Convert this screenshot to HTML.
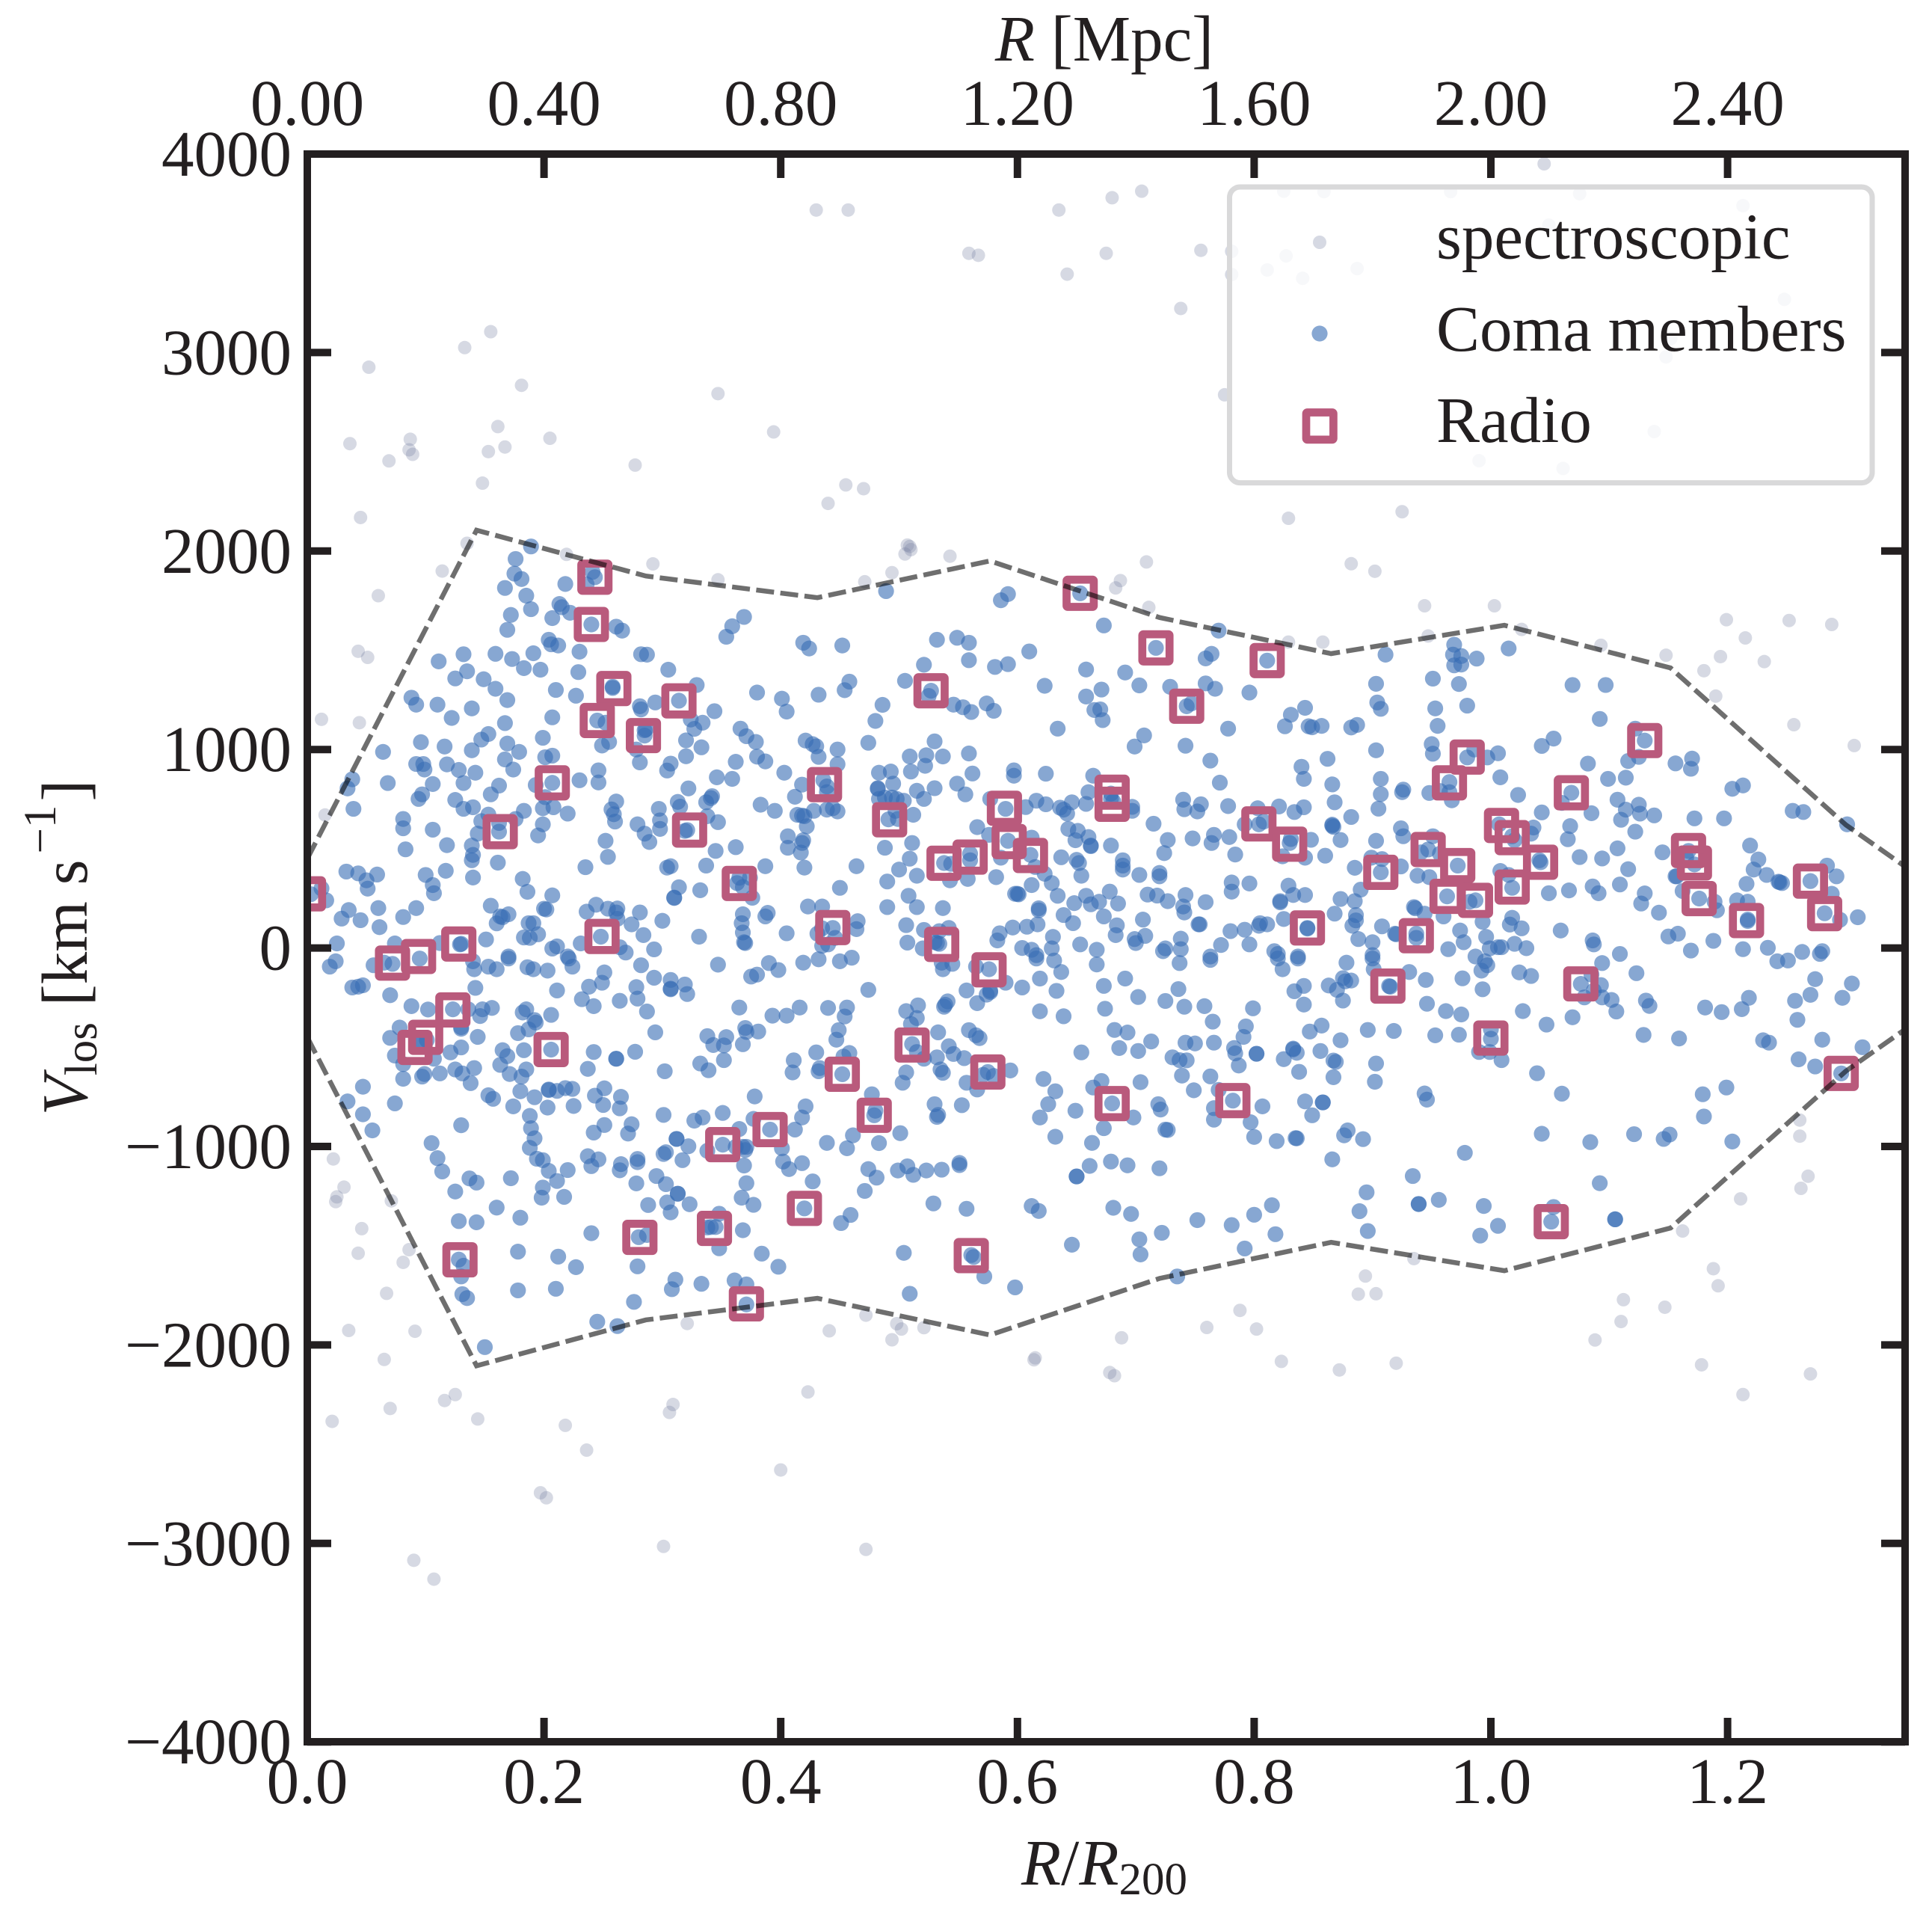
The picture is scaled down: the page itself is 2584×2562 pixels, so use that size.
<!DOCTYPE html>
<html lang="en">
<head>
<meta charset="utf-8">
<title>Coma cluster phase-space diagram</title>
<style>
html,body{margin:0;padding:0;background:#fff;}
svg{display:block;}
text{font-family:"Liberation Serif","Times New Roman",serif;fill:#231f20;font-size:87px;}
.it{font-style:italic;}
</style>
</head>
<body>
<svg id="chart" xmlns="http://www.w3.org/2000/svg" width="2584" height="2562" viewBox="0 0 2584 2562">
  <defs><clipPath id="plot-clip"><rect x="411" y="206" width="2137" height="2123"/></clipPath></defs>
  <rect x="0" y="0" width="2584" height="2562" fill="#fff"/>
  <g id="data-layer" clip-path="url(#plot-clip)"></g>
  <g id="legend">
    <rect x="1644.5" y="250" width="859.5" height="395.6" rx="14" fill="rgba(255,255,255,0.8)" stroke="#d9d9da" stroke-width="7"/>
    <circle cx="1765" cy="324" r="9" fill="rgb(214,217,227)"/>
    <circle cx="1765" cy="446" r="10.6" fill="rgb(135,167,210)"/>
    <rect x="1747" y="551.5" width="36.4" height="36.4" rx="1.5" fill="none" stroke="#b95a7c" stroke-width="10.7"/>
    <text x="1921" y="345.6">spectroscopic</text>
    <text x="1921" y="469">Coma members</text>
    <text x="1921" y="591">Radio</text>
  </g>
  <g id="ticks"></g>
  <rect x="411" y="206" width="2137" height="2123" fill="none" stroke="#231f20" stroke-width="10"/>
  <g id="tick-labels"></g>
  <text x="1477" y="81" text-anchor="middle"><tspan class="it">R</tspan> [Mpc]</text>
  <text x="1477" y="2520" text-anchor="middle"><tspan class="it">R</tspan>/<tspan class="it">R</tspan><tspan font-size="61" dy="13">200</tspan></text>
  <text transform="translate(116,1267) rotate(-90)" text-anchor="middle"><tspan class="it">V</tspan><tspan font-size="61" dy="13">los</tspan><tspan dy="-13"> [km s</tspan><tspan font-size="61" dy="-42" dx="8">−1</tspan><tspan dy="42" dx="5">]</tspan></text>
</svg>
<script>
const xTicksBottom = [0, 0.2, 0.4, 0.6, 0.8, 1.0, 1.2];
const xTickLabelsBottom = ["0.0", "0.2", "0.4", "0.6", "0.8", "1.0", "1.2"];
const xTicksTopMpc = [0, 0.4, 0.8, 1.2, 1.6, 2.0, 2.4];
const xTickLabelsTop = ["0.00", "0.40", "0.80", "1.20", "1.60", "2.00", "2.40"];
const yTicks = [-4000, -3000, -2000, -1000, 0, 1000, 2000, 3000, 4000];
const yTickLabels = ["−4000", "−3000", "−2000", "−1000", "0", "1000", "2000", "3000", "4000"];
const mpcPerR200 = 2.0;
const envelopeR = [0, 0.143, 0.286, 0.431, 0.5768, 0.72, 0.865, 1.0114, 1.1518, 1.21, 1.30, 1.35];
const envelopeV = [450, 2105, 1874, 1765, 1950, 1665, 1483, 1626, 1411, 1100, 620, 410];

const spectroscopic = [
[.052,2926],[.133,3025],[.155,3105],[.181,2835],[.036,2541],[.087,2563],[.086,2510],[.089,2487],[.069,2454],[.161,2627],[.167,2524],[.153,2501],[.205,2568],[.148,2342],[.045,2169],[.277,2433],
[.347,2793],[.394,2600],[.440,2240],[.455,2333],[.470,2314],[.509,2023],[.505,1985],[.510,2007],[.507,2030],[.543,1974],[.494,1891],[.471,1845],[.347,1855],
[.135,2039],[.219,1983],[.292,1935],[.114,1899],[.060,1775],[.043,1495],[.051,1464],[.012,1152],[.044,1135],[.015,670],
[.709,1945],[.687,1851],[.683,1814],[.711,1716],[.882,1936],[.902,1898],[.944,1724],[1.003,1724],[.829,1541],[.858,1541],[.947,1572],[1.026,1605],
[1.093,1525],[1.148,1475],[1.199,1654],[1.252,1650],[1.288,1630],[1.215,1562],[1.194,1468],[1.231,1443],[1.180,1397],[1.190,1269],[1.256,1125],[1.307,1020],
[1.045,3951],[.825,3813],[.859,3811],[.966,3811],[1.075,3800],[1.213,3740],[1.049,3642],[.755,3515],[.781,3510],[.827,3487],[.811,3416],[.781,3393],[.841,3374],[.887,3423],[1.248,3268],[1.152,3070],[1.148,2978],[.775,2787],[1.138,2602],[.990,2455],[1.061,2416],[.829,2165],[.925,2198],
[.430,3718],[.457,3718],[.559,3500],[.567,3490],[.635,3718],[.642,3395],[.680,3780],[.705,3813],[.675,3500],[.738,3222],
[.022,-1063],[.031,-1205],[.025,-1254],[.024,-1278],[.071,-1274],[.046,-1414],[.043,-1538],[.086,-1520],[.081,-1584],[.067,-1740],[.035,-1927],[.091,-1931],[.065,-2073],[.321,-1892],
[.472,-1850],[.498,-1893],[.502,-1920],[.521,-1913],[.494,-1974],[.441,-1929],[.615,-2065],[.678,-2139],
[.688,-1964],[.788,-1826],[.760,-1912],[.802,-1920],[.823,-2083],[.872,-2126],[.920,-2092],[.894,-1653],[.888,-1744],[.903,-1742],[.935,-1565],
[1.162,-1426],[1.188,-1616],[1.192,-1702],[1.112,-1772],[1.147,-1810],[1.110,-1882],[1.088,-1975],[1.178,-2100],[1.270,-2146],[1.261,-867],[1.261,-948],[1.268,-1150],[1.262,-1211],[1.211,-1264],
[1.213,-2250],[.682,-2155],[.614,-2075],[.423,-2237],[.309,-2300],[.306,-2340],[.218,-2405],[.236,-2530],[.197,-2745],[.202,-2770],[.400,-2630],[.301,-3015],[.472,-3030],[.090,-3085],[.107,-3180],[.021,-2385],[.070,-2320],[.116,-2280],[.125,-2250],[.144,-2373]
];

const comaMembers = [
[.189,2023],[.176,1960],[.175,1886],[.181,1859],[.167,1814],[.185,1775],[.189,1707],[.172,1678],[.169,1603],[.218,1834],[.241,1895],[.243,1868],[.236,1832],[.213,1733],[.215,1717],[.222,1689],[.207,1662],[.240,1630],[.261,1619],[.266,1599],[.204,1553],[.206,1530],[.212,1524],[.230,1493],[.191,1485],[.173,1456],[.159,1482],[.132,1480],[.111,1444],[.183,1410],[.197,1402],[.229,1390],[.282,1480],[.287,1478],[.305,1402],[.135,1394],[.125,1358],[.149,1354],[.159,1306],[.210,1300],[.227,1271],[.258,1316],[.258,1310],[.329,1325],[.088,1261],[.092,1226],[.110,1226],[.139,1207],[.169,1249],[.122,1159],[.207,1162],[.281,1218],[.282,1202],[.294,1237],[.314,1246],[.245,1146],[.252,1135],[.167,1133],[.324,1151],[.334,1135],[.327,1104],[.285,1097],[.285,1070],[.286,1101],[.153,1078],[.147,1050],[.199,1059],[.096,1037],[.116,1015],[.064,988],[.169,1030],[.139,996],[.179,988],[.255,1038],[.249,1020],[.278,1000],[.320,1046],[.333,1011],[.320,966],[.207,969],[.201,961],[.167,950],[.281,935],[.307,929],[.304,894],[.092,927],[.098,927],[.099,899],[.118,925],[.128,897],[.142,883],[.174,899],[.246,895],[.038,850],[.034,804],[.068,831],[.106,826],[.132,831],[.207,832],[.193,821],[.230,845],[.246,834],[.162,818],[.155,774],[.322,804],[.097,774],[.094,751],[.125,746],[.201,760],[.261,738],[.313,736],[.315,712],[.337,734],[.140,709],[.132,701],[.039,701],[.199,704],[.208,709],[.183,691],[.220,677],[.257,698],[.259,674],[.297,701],[.153,672],[.081,650],[.298,643],[.081,603],[.147,639],[.162,630],[.176,650],[.199,623],[.260,637],[.279,623],[.106,596],[.162,586],[.144,576],[.195,567],[.285,576],[.298,600],[.321,594],[.319,590],[.289,534],[.252,540],[.338,664],[.118,518],[.139,516],[.083,497],[.140,469],[.139,442],[.254,459],[.161,430],[.337,415],[.235,407],[.304,405],[.307,412],[.033,385],[.043,376],[.059,370],[.117,389],[.100,368],[.140,355],[.050,341],[.051,299],[.106,317],[.107,276],[.182,348],[.186,283],[.207,265],[.314,306],[.332,291],[.310,252],[.310,254],[.060,201],[.035,191],[.029,148],[.045,140],[.092,201],[.081,156],[.155,213],[.170,170],[.163,159],[.165,155],[.160,124],[.061,105],[.200,198],[.202,194],[.244,218],[.236,183],[.254,198],[.262,199],[.261,179],[.262,147],[.281,179],[.274,119],[.300,137],[.187,125],[.191,125],[.248,57],[.284,65],[.331,57],[.195,69],[.183,53],[.188,51],[.151,43],[.129,18],[.130,21],[.025,23],[.074,23],[.112,25],[.211,8],[.207,-3],[.231,23],[.264,4],[.269,-23],[.293,-7],[.220,-43],[.170,-43],[.003,271],[.016,240],[.012,300],
[.489,1798],[.592,1783],[.586,1752],[.653,1787],[.369,1668],[.359,1621],[.354,1568],[.419,1538],[.424,1509],[.452,1524],[.673,1625],[.532,1553],[.549,1563],[.559,1538],[.559,1450],[.521,1427],[.581,1416],[.592,1430],[.610,1494],[.658,1403],[.505,1346],[.527,1296],[.525,1270],[.458,1342],[.454,1299],[.380,1287],[.401,1256],[.432,1276],[.623,1321],[.671,1302],[.658,1267],[.344,1193],[.486,1225],[.405,1191],[.546,1226],[.554,1213],[.561,1189],[.574,1232],[.580,1195],[.670,1202],[.665,1199],[.672,1148],[.480,1144],[.366,1105],[.371,1067],[.379,1038],[.634,1105],[.421,1045],[.427,1027],[.430,1016],[.448,1000],[.474,1034],[.530,1041],[.432,963],[.448,926],[.380,964],[.387,940],[.362,938],[.509,965],[.523,971],[.537,965],[.559,980],[.522,918],[.510,889],[.403,883],[.483,883],[.493,889],[.562,879],[.597,895],[.597,868],[.624,878],[.664,868],[.346,860],[.359,852],[.436,845],[.439,814],[.418,823],[.495,828],[.482,802],[.549,828],[.530,805],[.515,792],[.482,805],[.342,765],[.341,755],[.412,762],[.556,774],[.383,722],[.395,691],[.439,785],[.488,758],[.494,758],[.498,751],[.504,742],[.483,751],[.521,751],[.577,751],[.590,701],[.607,710],[.616,742],[.624,724],[.636,707],[.639,697],[.646,734],[.642,677],[.658,726],[.660,785],[.679,778],[.428,691],[.439,697],[.444,704],[.448,688],[.414,671],[.418,667],[.420,664],[.422,613],[.491,648],[.499,650],[.497,691],[.512,671],[.347,634],[.566,609],[.576,570],[.592,540],[.612,556],[.643,600],[.651,590],[.660,559],[.649,543],[.662,516],[.662,513],[.679,516],[.406,563],[.419,543],[.418,529],[.406,505],[.417,481],[.362,508],[.345,489],[.488,505],[.511,529],[.637,457],[.650,444],[.652,428],[.654,364],[.509,450],[.500,395],[.515,364],[.490,335],[.387,412],[.420,405],[.464,412],[.538,428],[.560,475],[.560,442],[.611,469],[.615,408],[.586,455],[.544,424],[.543,341],[.558,348],[.582,357],[.623,374],[.629,327],[.365,354],[.363,327],[.368,307],[.374,354],[.376,253],[.450,303],[.612,317],[.600,273],[.601,270],[.598,273],[.634,263],[.508,263],[.490,206],[.515,206],[.537,201],[.423,209],[.435,209],[.678,284],[.658,263],[.648,226],[.662,220],[.669,233],[.618,200],[.618,190],[.639,166],[.673,159],[.647,125],[.617,119],[.608,107],[.596,103],[.585,74],[.583,38],[.368,170],[.367,125],[.368,78],[.369,29],[.370,25],[.389,177],[.387,159],[.405,74],[.444,101],[.431,72],[.435,99],[.446,51],[.440,18],[.435,11],[.465,135],[.464,95],[.506,115],[.521,91],[.534,85],[.542,101],[.507,27],[.520,-2],[.532,25],[.534,21],[.530,31],[.604,0],[.612,-9],[.616,-36],[.630,56],[.629,-2],[.653,18],[.667,-9],
[.717,1512],[.770,1599],[.764,1482],[.759,1459],[.811,1448],[.691,1388],[.703,1323],[.729,1316],[.759,1333],[.767,1306],[.796,1287],[.743,1218],[.747,1232],[.843,1210],[.831,1175],[.826,1117],[.846,1117],[.849,1112],[.857,1119],[.882,1111],[.887,1124],[.911,1478],[.903,1331],[.904,1237],[.907,1205],[.951,1357],[.969,1528],[.968,1478],[.975,1471],[.969,1424],[.975,1428],[.988,1458],[1.015,1509],[.973,1330],[.953,1207],[.980,1221],[.955,1119],[.778,1105],[.707,1071],[.699,1015],[.742,1019],[.763,944],[.903,996],[.950,1027],[.951,979],[.862,953],[.840,913],[.842,852],[.866,824],[.771,833],[.980,960],[.986,1000],[.997,960],[1.006,981],[.907,852],[.965,836],[1.008,860],[.907,775],[.926,798],[.925,785],[.948,781],[.957,791],[.965,785],[.967,744],[.868,734],[.740,747],[.755,724],[.741,699],[.752,688],[.778,715],[.803,704],[.821,713],[.842,709],[.834,685],[.905,702],[.697,711],[.697,691],[.679,751],[.681,738],[.715,626],[.804,623],[.808,637],[.792,623],[.866,616],[.866,621],[.867,610],[.882,660],[.727,544],[.748,552],[.766,570],[.764,529],[.779,559],[.784,471],[.724,478],[.830,529],[.831,549],[.848,545],[.873,544],[.903,540],[.924,603],[.926,563],[.947,496],[.941,482],[.951,563],[1.007,623],[1.018,563],[1.020,543],[.689,442],[.689,415],[.689,395],[.824,462],[.843,455],[.860,465],[.703,368],[.720,378],[.720,361],[.899,455],[.908,448],[.885,404],[.907,381],[.924,411],[.938,364],[.948,357],[.957,475],[.972,415],[1.008,388],[1.018,303],[1.015,368],[.781,330],[.781,284],[.796,325],[.829,314],[.833,267],[.843,267],[.822,236],[.822,230],[.890,294],[.873,247],[.885,236],[.685,224],[.710,269],[.718,264],[.727,236],[.742,267],[.740,209],[.741,179],[.759,231],[.706,143],[.684,114],[.683,65],[.868,173],[.886,166],[.886,139],[.883,112],[.935,206],[.936,200],[.944,173],[.963,260],[.987,240],[.982,233],[1.018,152],[1.016,118],[.993,132],[.960,159],[.825,146],[.805,125],[.811,119],[.804,112],[.845,101],[.845,98],[.753,119],[.754,119],[.908,109],[.919,72],[.920,69],[.937,72],[.937,51],[.780,85],[.792,92],[.738,47],[.738,-6],[.699,45],[.700,25],[.708,61],[.725,-2],[.723,-16],[.772,15],[.796,18],[.888,45],[.900,29],[.974,88],[.977,29],[.996,56],[.964,-6],[1.006,4],[1.009,4],[1.020,21],[.999,-2],[.817,-16],[.820,-30],[.837,-43],[.763,-43],[.900,-36],[.987,-43],
[1.069,1325],[1.097,1325],[1.092,1154],[1.053,1055],[1.043,1018],[1.122,1105],[1.130,1045],[1.082,929],[1.116,942],[1.125,963],[1.156,930],[1.170,954],[1.169,903],[1.099,852],[1.114,858],[1.213,819],[1.204,802],[1.023,771],[1.068,782],[1.060,731],[1.107,747],[1.125,722],[1.114,697],[1.126,677],[1.110,646],[1.138,668],[1.043,683],[1.085,679],[1.255,691],[1.264,685],[1.172,653],[1.197,653],[1.301,623],[1.122,586],[1.067,614],[1.065,548],[1.036,607],[1.034,576],[1.107,502],[1.145,482],[1.167,489],[1.172,421],[1.165,455],[1.075,458],[1.094,451],[1.219,516],[1.226,446],[1.116,397],[1.041,442],[1.042,432],[1.222,395],[1.233,368],[1.243,334],[1.244,331],[1.246,327],[1.270,337],[1.284,415],[1.292,361],[1.288,273],[1.156,361],[1.157,361],[1.216,323],[1.109,320],[1.086,310],[1.091,276],[1.066,290],[1.049,276],[1.130,275],[1.127,224],[1.162,287],[1.176,249],[1.189,233],[1.191,190],[1.142,178],[1.208,240],[1.217,233],[1.217,143],[1.217,136],[1.282,175],[1.295,142],[1.310,155],[1.026,99],[1.059,88],[1.150,58],[1.158,72],[1.188,36],[1.086,38],[1.087,18],[1.030,-1],[1.109,-30],[1.169,-13],[1.213,-6],[1.234,1],[1.263,-20],[1.280,-16],[1.278,-30],
[.019,-94],[.024,-67],[.056,-87],[.072,-80],[.065,-74],[.095,-53],[.140,-67],[.141,-107],[.153,-94],[.160,-107],[.170,-53],[.186,-97],[.191,-107],[.203,-114],[.221,-53],[.224,-94],[.251,-123],[.282,-87],[.293,-150],[.238,-195],[.249,-175],[.307,-161],[.307,-205],[.307,-208],[.319,-184],[.321,-232],[.278,-197],[.279,-255],[.264,-266],[.232,-258],[.242,-293],[.287,-320],[.211,-214],[.038,-199],[.043,-195],[.047,-188],[.142,-201],[.070,-238],[.088,-293],[.102,-310],[.123,-309],[.136,-309],[.148,-309],[.156,-302],[.146,-343],[.185,-309],[.182,-325],[.206,-337],[.192,-363],[.193,-376],[.187,-410],[.178,-429],[.294,-425],[.078,-401],[.070,-453],[.130,-407],[.130,-399],[.144,-448],[.095,-471],[.096,-477],[.101,-464],[.074,-542],[.130,-501],[.121,-526],[.165,-515],[.169,-545],[.183,-515],[.206,-512],[.242,-524],[.277,-523],[.261,-558],[.261,-558],[.107,-558],[.081,-585],[.163,-589],[.185,-612],[.171,-635],[.181,-648],[.125,-612],[.131,-632],[.141,-605],[.112,-632],[.099,-635],[.097,-648],[.081,-659],[.138,-681],[.237,-609],[.302,-621],[.332,-582],[.339,-616],[.338,-444],[.047,-699],[.034,-773],[.074,-783],[.047,-838],[.055,-919],[.153,-742],[.157,-760],[.180,-722],[.192,-752],[.204,-713],[.204,-716],[.211,-720],[.218,-706],[.224,-710],[.174,-798],[.203,-804],[.225,-796],[.251,-707],[.243,-744],[.250,-791],[.265,-750],[.264,-808],[.301,-841],[.188,-846],[.130,-893],[.189,-908],[.192,-959],[.188,-1007],[.251,-892],[.242,-930],[.274,-888],[.271,-935],[.327,-870],[.334,-854],[.105,-983],[.110,-1059],[.114,-1126],[.312,-962],[.312,-962],[.322,-999],[.303,-1029],[.301,-1038],[.317,-1069],[.338,-1022],[.194,-1062],[.199,-1069],[.237,-1049],[.246,-1065],[.240,-1099],[.265,-1089],[.264,-1120],[.279,-1063],[.279,-1079],[.204,-1123],[.220,-1119],[.211,-1174],[.199,-1207],[.198,-1258],[.217,-1254],[.172,-1160],[.137,-1161],[.143,-1182],[.125,-1227],[.278,-1186],[.295,-1149],[.303,-1190],[.313,-1238],[.313,-1238],[.288,-1295],[.304,-1282],[.307,-1332],[.323,-1291],[.160,-1308],[.128,-1376],[.143,-1382],[.180,-1359],[.240,-1437],[.280,-1457],[.287,-1446],[.338,-1408],[.178,-1530],[.212,-1555],[.227,-1608],[.128,-1570],[.132,-1601],[.130,-1655],[.279,-1604],[.311,-1671],[.308,-1719],[.333,-1692],[.178,-1725],[.210,-1717],[.131,-1744],[.135,-1764],[.276,-1783],[.245,-1883],[.262,-1905],[.150,-2011],
[.347,-84],[.390,-76],[.398,-111],[.375,-144],[.380,-134],[.419,-74],[.432,-57],[.450,-67],[.460,-49],[.474,-211],[.537,-107],[.536,-74],[.545,-80],[.576,-107],[.565,-94],[.590,-175],[.604,-199],[.616,-53],[.631,-63],[.637,-121],[.619,-154],[.667,-83],[.673,-191],[.557,-214],[.577,-222],[.577,-215],[.574,-235],[.633,-216],[.566,-278],[.365,-300],[.416,-300],[.440,-302],[.456,-300],[.454,-345],[.393,-341],[.405,-341],[.516,-289],[.506,-318],[.515,-353],[.510,-383],[.541,-269],[.538,-296],[.539,-286],[.619,-319],[.639,-344],[.674,-306],[.370,-403],[.371,-423],[.381,-421],[.449,-414],[.447,-462],[.533,-425],[.559,-414],[.565,-440],[.568,-454],[.354,-449],[.343,-489],[.352,-491],[.368,-485],[.542,-495],[.546,-534],[.555,-555],[.511,-484],[.515,-524],[.532,-551],[.521,-558],[.654,-526],[.430,-526],[.458,-529],[.453,-547],[.411,-566],[.410,-627],[.432,-621],[.433,-605],[.452,-636],[.352,-565],[.506,-627],[.503,-679],[.535,-612],[.537,-629],[.594,-617],[.575,-625],[.571,-639],[.580,-645],[.557,-679],[.566,-713],[.622,-660],[.632,-722],[.671,-670],[.664,-703],[.680,-783],[.378,-748],[.477,-737],[.421,-798],[.418,-854],[.412,-915],[.530,-787],[.533,-841],[.532,-851],[.553,-792],[.626,-787],[.619,-854],[.649,-820],[.351,-831],[.377,-861],[.480,-820],[.479,-843],[.391,-915],[.461,-944],[.501,-933],[.673,-908],[.365,-912],[.351,-991],[.439,-982],[.456,-1009],[.483,-983],[.632,-951],[.663,-982],[.368,-1002],[.371,-1002],[.370,-1018],[.401,-1009],[.362,-1002],[.369,-1096],[.402,-1076],[.407,-1114],[.418,-1084],[.474,-1114],[.481,-1157],[.499,-1121],[.507,-1100],[.512,-1143],[.523,-1121],[.536,-1117],[.551,-1094],[.551,-1083],[.661,-1098],[.679,-1076],[.650,-1151],[.650,-1151],[.371,-1185],[.427,-1176],[.471,-1224],[.367,-1258],[.377,-1294],[.420,-1312],[.529,-1287],[.557,-1314],[.612,-1300],[.618,-1325],[.681,-1309],[.459,-1345],[.451,-1386],[.348,-1339],[.341,-1406],[.345,-1406],[.368,-1422],[.348,-1513],[.384,-1540],[.398,-1606],[.504,-1536],[.561,-1547],[.563,-1557],[.646,-1495],[.572,-1655],[.598,-1710],[.361,-1675],[.371,-1695],[.371,-1796],[.509,-1742],
[.737,-76],[.763,-60],[.820,-53],[.824,-107],[.837,-53],[.878,-74],[.900,-53],[.901,-107],[.691,-154],[.702,-247],[.736,-207],[.725,-267],[.741,-296],[.758,-293],[.799,-304],[.765,-371],[.842,-191],[.834,-218],[.842,-285],[.863,-189],[.870,-211],[.875,-152],[.877,-168],[.882,-164],[.875,-265],[.914,-192],[.915,-195],[.931,-121],[.945,-161],[.976,-153],[.992,-114],[.997,-87],[.995,-67],[.993,-208],[.946,-281],[.962,-318],[.975,-335],[.682,-413],[.693,-426],[.686,-504],[.702,-519],[.713,-471],[.742,-477],[.750,-481],[.766,-477],[.793,-395],[.791,-448],[.847,-421],[.857,-391],[.873,-465],[.896,-413],[.918,-418],[.953,-440],[.973,-437],[1.000,-410],[1.000,-457],[.990,-524],[.999,-524],[1.009,-565],[.731,-551],[.737,-565],[.743,-566],[.783,-504],[.784,-531],[.787,-592],[.802,-533],[.802,-533],[.825,-560],[.833,-511],[.836,-528],[.833,-507],[.856,-519],[.838,-624],[.867,-567],[.869,-574],[.867,-651],[.903,-582],[.902,-674],[.739,-643],[.763,-647],[.704,-676],[.749,-717],[.770,-715],[.782,-769],[.807,-798],[.719,-787],[.721,-814],[.766,-807],[.766,-865],[.698,-854],[.843,-773],[.858,-778],[.858,-778],[.849,-843],[.944,-733],[.946,-764],[.797,-878],[.800,-952],[.819,-973],[.835,-958],[.836,-959],[.725,-915],[.727,-917],[.879,-919],[.876,-944],[.892,-963],[.866,-1065],[.978,-1032],[.693,-1095],[.720,-1110],[.934,-1149],[.895,-1231],[.939,-1290],[.939,-1290],[.956,-1269],[.889,-1326],[.994,-1300],[1.006,-1400],[.991,-1449],[.896,-1426],[.696,-1340],[.815,-1296],[.800,-1344],[.781,-1396],[.752,-1371],[.818,-1442],[.722,-1435],[.703,-1468],[.704,-1544],[.792,-1514],[.735,-1655],
[1.024,-123],[1.034,-141],[1.094,-76],[1.123,-127],[1.076,-181],[1.085,-134],[1.093,-187],[1.087,-215],[1.094,-249],[1.102,-262],[1.079,-249],[1.106,-320],[1.131,-265],[1.134,-292],[1.027,-318],[1.047,-386],[1.069,-349],[1.242,-67],[1.251,-63],[1.274,-157],[1.305,-179],[1.270,-236],[1.257,-266],[1.297,-251],[1.259,-362],[1.181,-300],[1.195,-323],[1.218,-251],[1.212,-308],[1.129,-438],[1.159,-456],[1.230,-465],[1.235,-477],[1.280,-462],[1.314,-500],[1.260,-561],[1.274,-597],[1.296,-632],[1.039,-631],[1.060,-734],[1.199,-703],[1.179,-737],[1.180,-849],[1.043,-936],[1.084,-978],[1.121,-938],[1.151,-940],[1.146,-962],[1.204,-975],[1.092,-1185],[1.053,-1305],[1.051,-1379],[1.105,-1367],[1.105,-1367]
];

const radioSources = [
[.243,1868],[.240,1630],[.259,1307],[.314,1245],[.245,1146],[.284,1070],[.207,832],[.163,586],[.323,594],[.001,273],[.249,58],[.128,20],[.094,-43],[.072,-76],
[.653,1787],[.527,1296],[.437,823],[.589,704],[.492,646],[.593,536],[.611,466],[.538,427],[.560,458],[.365,325],[.444,103],[.536,18],
[.717,1512],[.811,1448],[.743,1218],[.980,962],[.965,832],[.680,785],[.680,724],[.804,625],[.830,523],[.947,496],[1.009,617],[1.018,556],[.907,381],[.972,415],[1.018,307],[.963,260],[.987,240],[.845,101],[.937,62],
[1.130,1045],[1.068,782],[1.167,491],[1.172,428],[1.042,432],[1.176,249],[1.216,138],[1.270,337],[1.282,173],
[.281,-1458],[.206,-512],[.123,-312],[.100,-450],[.091,-501],[.129,-1571],
[.576,-110],[.511,-489],[.452,-636],[.575,-625],[.680,-784],[.479,-843],[.391,-915],[.351,-991],[.420,-1312],[.344,-1413],[.561,-1550],[.371,-1793],
[.913,-192],[1.000,-454],[.782,-769],[1.076,-181],[1.296,-632],[1.051,-1379]
];

const SVG_NS = 'http://www.w3.org/2000/svg';
function xScale(r) { return 411 + r * 1583; }
function yScale(v) { return 1267.6 - v * 0.2654; }
function xScaleMpc(m) { return xScale(m / mpcPerR200); }

const dataLayer = document.getElementById('data-layer');
const tickLayer = document.getElementById('ticks');
const labelLayer = document.getElementById('tick-labels');

spectroscopic.forEach(function (p) {
  const el = document.createElementNS(SVG_NS, 'circle');
  
  
  el.setAttribute('cx', xScale(p[0]));
  el.setAttribute('cy', yScale(p[1]));
  el.setAttribute('r', 9);
  el.setAttribute('fill', 'rgb(118,128,162)');
  el.setAttribute('fill-opacity', 0.3);
  dataLayer.appendChild(el);
});

comaMembers.forEach(function (p) {
  const el = document.createElementNS(SVG_NS, 'circle');
  
  
  el.setAttribute('cx', xScale(p[0]));
  el.setAttribute('cy', yScale(p[1]));
  el.setAttribute('r', 10.6);
  el.setAttribute('fill', 'rgb(55,108,180)');
  el.setAttribute('fill-opacity', 0.6);
  dataLayer.appendChild(el);
});

radioSources.forEach(function (p) {
  const el = document.createElementNS(SVG_NS, 'rect');
  
  
  el.setAttribute('x', xScale(p[0]) - 18.2);
  el.setAttribute('y', yScale(p[1]) - 18.2);
  el.setAttribute('width', 36.4);
  el.setAttribute('height', 36.4);
  el.setAttribute('rx', 1.5);
  el.setAttribute('fill', 'none');
  el.setAttribute('stroke', '#b95a7c');
  el.setAttribute('stroke-width', 10.7);
  dataLayer.appendChild(el);
});

[1, -1].forEach(function (sign) {
  const d = envelopeR.map(function (r, i) {
    return (i ? 'L' : 'M') + xScale(r) + ' ' + yScale(sign * envelopeV[i]);
  }).join(' ');
  const el = document.createElementNS(SVG_NS, 'path');
  
  
  el.setAttribute('d', d);
  el.setAttribute('fill', 'none');
  el.setAttribute('stroke', '#000');
  el.setAttribute('stroke-opacity', 0.57);
  el.setAttribute('stroke-width', 6.5);
  el.setAttribute('stroke-dasharray', '24 8.5');
  dataLayer.appendChild(el);
});

function addTick(x1, y1, x2, y2, name) {
  const el = document.createElementNS(SVG_NS, 'line');
  
  
  el.setAttribute('x1', x1);
  el.setAttribute('y1', y1);
  el.setAttribute('x2', x2);
  el.setAttribute('y2', y2);
  el.setAttribute('stroke', '#231f20');
  el.setAttribute('stroke-width', 10);
  tickLayer.appendChild(el);
}

function addLabel(x, y, anchor, str, name) {
  const el = document.createElementNS(SVG_NS, 'text');
  
  
  el.setAttribute('x', x);
  el.setAttribute('y', y);
  el.setAttribute('text-anchor', anchor);
  el.textContent = str;
  labelLayer.appendChild(el);
}

xTicksBottom.forEach(function (t, i) {
  const x = xScale(t);
  addTick(x, 2329, x, 2297, 'bottom-axis-tick');
  addLabel(x, 2411, 'middle', xTickLabelsBottom[i], 'bottom-axis-tick-label');
});
xTicksTopMpc.forEach(function (t, i) {
  const x = xScaleMpc(t);
  addTick(x, 206, x, 238, 'top-axis-tick');
  addLabel(x, 167, 'middle', xTickLabelsTop[i], 'top-axis-tick-label');
});
yTicks.forEach(function (t, i) {
  const y = yScale(t);
  addTick(411, y, 443, y, 'left-axis-tick');
  addTick(2548, y, 2516, y, 'right-axis-tick');
  addLabel(390, y + 29, 'end', yTickLabels[i], 'left-axis-tick-label');
});
</script>
</body>
</html>
